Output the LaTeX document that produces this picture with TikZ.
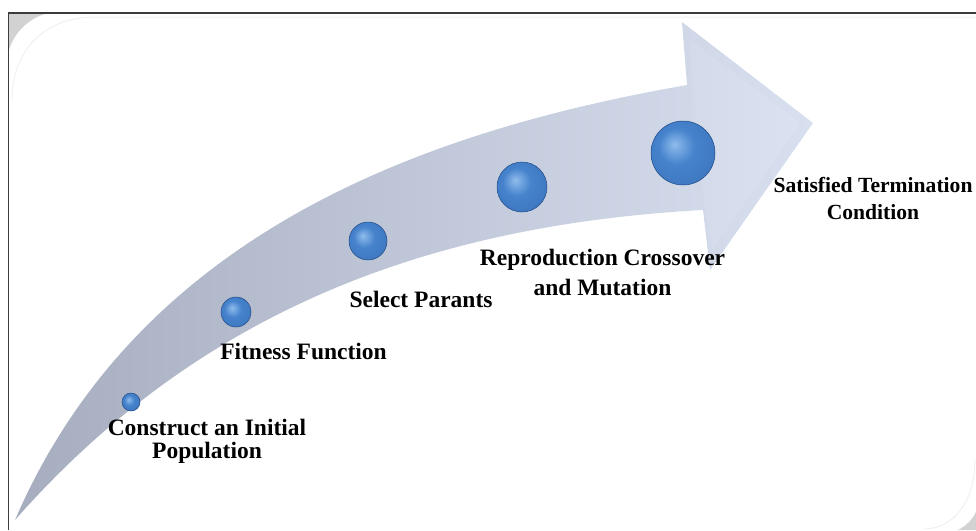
\documentclass[tikz,border=0pt]{standalone}
\usepackage{fontspec}
\setmainfont{Liberation Serif}
\usetikzlibrary{positioning}
\definecolor{shaftdark}{HTML}{A5ADBF}
\definecolor{shaftlight}{HTML}{D8E0F0}
\definecolor{beadhi}{HTML}{8FBCEC}
\definecolor{beadblue}{HTML}{4683CC}
\definecolor{beadmid}{HTML}{3A73BC}
\definecolor{beaddark}{HTML}{1F4A85}
\definecolor{framegray}{HTML}{3C3C3C}
\pgfdeclareradialshading{beadshade}{\pgfpoint{-7bp}{7bp}}{%
  color(0bp)=(beadhi); color(14bp)=(beadblue); color(36bp)=(beadmid);
  color(43bp)=(beadblue); color(50bp)=(beaddark)}
\tikzset{
  stage/.style={font=\bfseries\fontsize{23.5}{28}\selectfont, align=center, inner sep=0pt},
  stagesmall/.style={stage, font=\bfseries\fontsize{21.6}{26}\selectfont},
  bead/.style={circle, shading=beadshade, draw=beaddark, line width=0.5pt, inner sep=0pt},
}

\begin{document}
\begin{tikzpicture}[x=1pt,y=-1pt]
  \useasboundingbox (0,0) rectangle (976,530);
  % Frame
  \fill[gray!35] (9,14) -- (45,14) .. controls (28,19) and (14,33) .. (9,50) -- cycle;
  \fill[gray!35] (976,512) .. controls (972,520) and (966,526) .. (958,530) -- (976,530) -- cycle;
  \draw[gray!12, line width=1pt] (12,100) .. controls (12,50) and (45,17) .. (95,17) -- (976,17);
  \draw[gray!12, line width=1pt] (975,460) .. controls (975,500) and (955,528) .. (925,529);
  \draw[framegray, line width=1.5pt] (976,13) -- (8.5,13) -- (8.5,530);
  % Arrow
  \coordinate (tail) at (15,520);
  \coordinate (neckup) at (687,85);
  \coordinate (headup) at (682,22);
  \coordinate (tip) at (813,123);
  \coordinate (headlow) at (710,270);
  \coordinate (necklow) at (703,210);
  \shade[left color=shaftdark, right color=shaftlight]
    (tail) .. controls (140,230) and (430,130) .. (neckup) -- (headup) -- (tip)
    -- (headlow) -- (necklow) .. controls (430,225) and (200,310) .. (tail) -- cycle;
  \fill[white, opacity=0.08] (690,40) -- (800,123) -- (712,250) -- (705,208) -- (692,88) -- cycle;
  % Beads
  \node[bead, minimum size=18pt] (b1) at (131,402) {};
  \node[bead, minimum size=30pt] (b2) at (236,312) {};
  \node[bead, minimum size=38pt] (b3) at (368,241) {};
  \node[bead, minimum size=50pt] (b4) at (522,187) {};
  \node[bead, minimum size=64pt] (b5) at (683,153) {};
  % Labels
  \node[stage] (init) at (207,441) {Construct an Initial\\[-4.7pt]Population};
  \node[stage] (fitness) at (303.5,351.5) {Fitness Function};
  \node[stage] (select) at (421,299) {Select Parants};
  \node[stage] (repro) at (602.5,272.5) {Reproduction Crossover\\[2pt]and Mutation};
  \node[stagesmall] (stop) at (873,198.5) {Satisfied Termination\\[1.5pt]Condition};
\end{tikzpicture}
\end{document}
